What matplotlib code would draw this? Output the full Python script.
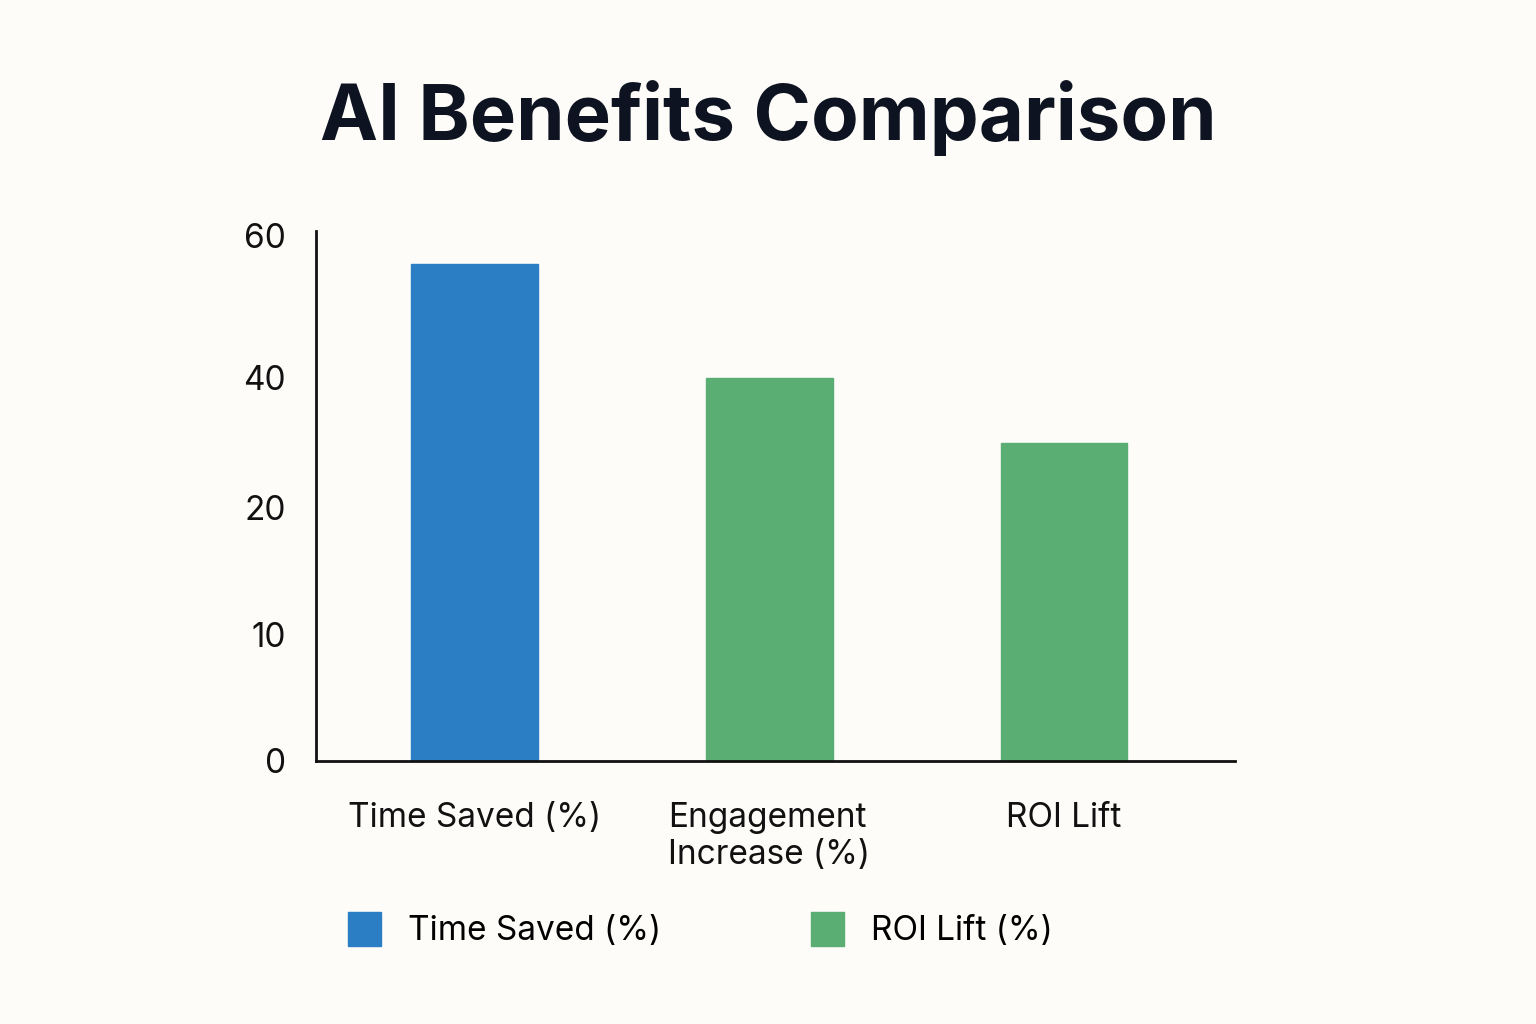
import matplotlib
matplotlib.use("Agg")
import matplotlib.pyplot as plt
import numpy as np
from matplotlib.patches import Patch

# ── Data ──────────────────────────────────────────────────────────────────────
categories = ["Time Saved (%)", "Engagement\nIncrease (%)", "ROI Lift"]
values = [56, 40, 30]
bar_colors = ["#2b7ec4", "#5aae74", "#5aae74"]
tick_values = [0, 10, 20, 40, 60]
legend_labels = ["Time Saved (%)", "ROI Lift (%)"]
legend_colors = ["#2b7ec4", "#5aae74"]

# The reference axis is piecewise: ticks are evenly-ish spaced, not linear
tick_pos = [0, 126, 253, 383, 525]


def fwd(v):
    return np.interp(v, tick_values, tick_pos, left=None, right=None) + \
        np.where(np.asarray(v) > 60, (np.asarray(v) - 60) * 7.1, 0)


def inv(p):
    return np.interp(p, tick_pos, tick_values) + \
        np.where(np.asarray(p) > 525, (np.asarray(p) - 525) / 7.1, 0)


BG = "#fdfcf8"
plt.rcParams["font.family"] = "Inter"

fig = plt.figure(figsize=(15.36, 10.24), dpi=100, facecolor=BG)
ax = fig.add_axes([0.206, 0.257, 0.598, 0.517], facecolor=BG)
ax.set_yscale("function", functions=(fwd, inv))

x = np.arange(len(categories))
ax.bar(x, values, width=0.43, color=bar_colors, edgecolor=bar_colors,
       linewidth=1, zorder=2)

ax.set_xlim(-0.536, 2.58)
ax.set_ylim(0, 60.6)
ax.set_yticks(tick_values)
ax.set_yticklabels([str(t) for t in tick_values], fontsize=24, color="#111")
ax.set_xticks(x)
ax.set_xticklabels(categories, fontsize=24, color="#111", multialignment="left")
ax.tick_params(length=0, pad=22)
ax.tick_params(axis="x", pad=30)
for side in ("top", "right"):
    ax.spines[side].set_visible(False)
for side in ("left", "bottom"):
    ax.spines[side].set_linewidth(2)
    ax.spines[side].set_color("#111")

fig.text(0.5, 0.885, "AI Benefits Comparison", ha="center", va="center",
         fontsize=56, fontweight="bold", color="#0d1320")

handles = [Patch(facecolor=c, edgecolor=c) for c in legend_colors]
fig.legend(handles, legend_labels, loc="center", bbox_to_anchor=(0.456, 0.092),
           ncol=2, frameon=False, fontsize=24, handlelength=1.0,
           handleheight=1.2, columnspacing=4.5, handletextpad=0.8)

fig.savefig("out.png", dpi=100, facecolor=BG)
